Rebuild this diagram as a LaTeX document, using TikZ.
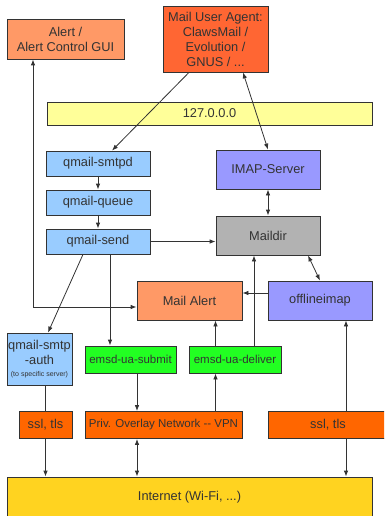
\documentclass[tikz,border=0pt]{standalone}
\usepackage{fontspec}
\setmainfont{Liberation Sans}
\usepackage{xcolor}
\usetikzlibrary{arrows.meta}
\definecolor{alertorange}{HTML}{FF9966}
\definecolor{muaorange}{HTML}{FF6633}
\definecolor{loyellow}{HTML}{FFFF99}
\definecolor{qblue}{HTML}{99CCFF}
\definecolor{imapblue}{HTML}{9999FF}
\definecolor{dirgray}{HTML}{B2B2B2}
\definecolor{emsdgreen}{HTML}{22FF22}
\definecolor{sslorange}{HTML}{FF6600}
\definecolor{netyellow}{HTML}{FFD320}
\definecolor{inkgray}{HTML}{333333}
\tikzset{
  box/.style={draw=inkgray, line width=0.8pt, text=inkgray, align=center,
    inner sep=0pt, font=\fontsize{12.8}{15}\selectfont},
  smallbox/.style={box, font=\fontsize{11.5}{13}\selectfont},
  link/.style={draw=inkgray, line width=0.8pt},
}

\begin{document}
\begin{tikzpicture}[x=1pt, y=-1pt, >={Latex[length=6pt,width=4.5pt]}]
\useasboundingbox (0,0) rectangle (384,516);
\clip (0,0) rectangle (384,516);
% Define the boxes
\node[box, fill=alertorange, minimum width=117pt, minimum height=40pt] (alertgui) at (65.5,39) {Alert /\\Alert Control GUI};
\node[box, fill=muaorange, minimum width=105pt, minimum height=66pt] (mua) at (215.5,39) {Mail User Agent:\\ClawsMail /\\Evolution /\\GNUS / ...};
\node[box, fill=loyellow, minimum width=325pt, minimum height=23pt] (lo) at (209.5,113.5) {127.0.0.0};
\node[box, fill=qblue, minimum width=104pt, minimum height=25pt] (smtpd) at (98,163.5) {qmail-smtpd};
\node[box, fill=qblue, minimum width=104pt, minimum height=25pt] (queue) at (98,202.5) {qmail-queue};
\node[box, fill=qblue, minimum width=104pt, minimum height=25pt] (send) at (98,241.5) {qmail-send};
\node[box, fill=imapblue, minimum width=104pt, minimum height=39pt] (imap) at (268,169.5) {IMAP-Server};
\node[box, fill=dirgray, minimum width=104pt, minimum height=39pt] (maildir) at (268,235.5) {Maildir};
\node[box, fill=alertorange, minimum width=105pt, minimum height=39pt] (mailalert) at (189.5,300.5) {Mail Alert};
\node[box, fill=imapblue, minimum width=104pt, minimum height=39pt] (offlineimap) at (320,300.5) {offlineimap};
\node[box, fill=qblue, minimum width=65pt, minimum height=52pt] (smtpauth) at (39.5,359) {qmail-smtp\\-auth\\[-3pt]{\fontsize{7}{8}\selectfont(to specific server)}};
\node[smallbox, fill=emsdgreen, minimum width=91pt, minimum height=27pt] (submit) at (130.5,359.5) {emsd-ua-submit};
\node[smallbox, fill=emsdgreen, minimum width=92pt, minimum height=27pt] (deliver) at (235,359.5) {emsd-ua-deliver};
\node[box, fill=sslorange, minimum width=53pt, minimum height=27pt] (sslL) at (45.5,425) {ssl, tls};
\node[smallbox, fill=sslorange, minimum width=157pt, minimum height=27pt] (vpn) at (163.5,425) {Priv. Overlay Network -{}- VPN};
\node[box, fill=sslorange, minimum width=120pt, minimum height=27pt] (sslR) at (328,425) {ssl, tls};
\node[box, fill=netyellow, minimum width=365pt, minimum height=41pt] (internet) at (189.5,497.5) {Internet (Wi-Fi, ...)};

% Draw the connections
\draw[link, ->] ([xshift=-26.5pt]mua.south) to ([xshift=14pt]smtpd.north);
\draw[link, <->] ([xshift=27.5pt]mua.south) to (imap.north);
\draw[link, ->] (smtpd) to (queue);
\draw[link, ->] (queue) to (send);
\draw[link, ->] (send.east) to (send.east -| maildir.west);
\draw[link, <->] (imap) to (maildir);
\draw[link, <->] ([xshift=40pt]maildir.south) to (offlineimap.north);
\draw[link, <->] ([xshift=-32.5pt]alertgui.south) |- ([yshift=-6.5pt]mailalert.west);
\draw[link, ->] ([xshift=-15pt]send.south) to ([xshift=8.5pt]smtpauth.north);
\draw[link, ->] ([xshift=12pt]send.south) to ([xshift=12pt]send.south |- submit.north);
\draw[link, ->] ([xshift=19pt]deliver.north) to ([xshift=19pt]deliver.north |- maildir.south);
\draw[link, ->] ([yshift=7.5pt]offlineimap.west) to ([yshift=7.5pt]offlineimap.west -| mailalert.east);
\draw[link, ->] ([xshift=-19.5pt]deliver.north) to ([xshift=-19.5pt]deliver.north |- mailalert.south);
\draw[link, ->] ([xshift=-19.5pt]vpn.north -| deliver.south) to ([xshift=-19.5pt]deliver.south);
\draw[link, ->] ([xshift=6.5pt]submit.south) to ([xshift=6.5pt]submit.south |- vpn.north);
\draw[link] (sslL.north) to (sslL.north |- smtpauth.south);
\draw[link, ->] ([xshift=18pt]sslR.north) to ([xshift=18pt]sslR.north |- offlineimap.south);
\draw[link, ->] (sslL.south) to (sslL.south |- internet.north);
\draw[link, <->] ([xshift=6.5pt]submit.south |- vpn.south) to ([xshift=6.5pt]submit.south |- internet.north);
\draw[link, ->] ([xshift=18pt]sslR.south) to ([xshift=18pt]sslR.south |- internet.north);
\end{tikzpicture}
\end{document}
